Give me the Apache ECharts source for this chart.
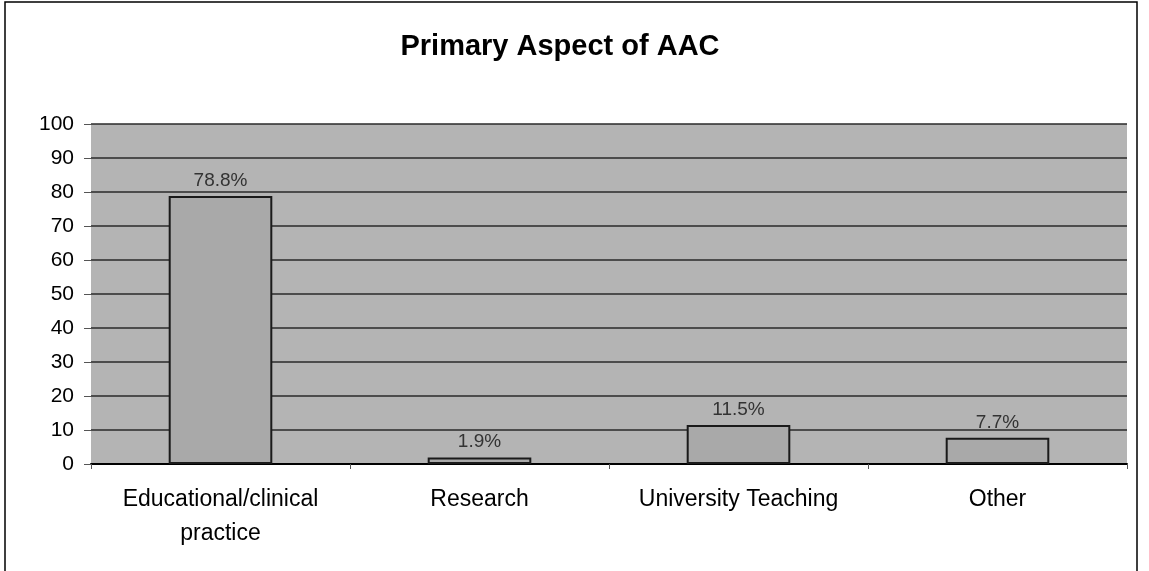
<!DOCTYPE html>
<html>
<head>
<meta charset="utf-8">
<script src="https://cdn.jsdelivr.net/npm/echarts@6/dist/echarts.min.js"></script>
<style>
html,body{margin:0;padding:0;background:#fff;}
#chart{width:1149px;height:571px;}
</style>
</head>
<body>
<div id="chart"></div>
<script>
const categories = ['Educational/clinical\npractice', 'Research', 'University Teaching', 'Other'];
const values = [78.8, 1.9, 11.5, 7.7];
const labels = ['78.8%', '1.9%', '11.5%', '7.7%'];
const yTicks = [0, 10, 20, 30, 40, 50, 60, 70, 80, 90, 100];

const FONT = 'Liberation Sans, Arial, sans-serif';
const chart = echarts.init(document.getElementById('chart'), null, {renderer: 'canvas'});
chart.setOption({
  animation: false,
  backgroundColor: '#ffffff',
  title: {
    text: 'Primary Aspect of AAC',
    left: 555, top: 27, textAlign: 'center',
    textStyle: {fontFamily: FONT, fontWeight: 'bold', fontSize: 29, color: '#000'}
  },
  graphic: [{
    type: 'rect', shape: {x: 5, y: 2, width: 1132, height: 575},
    style: {fill: 'none', stroke: '#000', lineWidth: 1.5}, silent: true, z: 100
  }],
  grid: {left: 91, right: 22, top: 124, bottom: 107, show: true, backgroundColor: '#b4b4b4', borderWidth: 0},
  xAxis: {
    type: 'category',
    data: categories,
    axisLine: {show: true, lineStyle: {color: '#000', width: 2}},
    axisTick: {show: true, length: 5, lineStyle: {color: '#555'}},
    axisLabel: {fontFamily: FONT, fontSize: 23, color: '#000', margin: 19, lineHeight: 34, interval: 0}
  },
  yAxis: {
    type: 'value', min: 0, max: 100, interval: 10,
    axisLine: {show: false},
    axisTick: {show: true, length: 7, lineStyle: {color: '#555'}},
    splitLine: {show: true, lineStyle: {color: '#2a2a2a', width: 1.5}},
    axisLabel: {fontFamily: FONT, fontSize: 21, color: '#000', margin: 17,
      formatter: v => yTicks.includes(v) ? String(v) : ''}
  },
  series: [{
    type: 'bar',
    data: values,
    barWidth: '40%',
    itemStyle: {color: '#a9a9a9', borderColor: '#1a1a1a', borderWidth: 2},
    label: {
      show: true, position: 'top', distance: 6,
      formatter: p => labels[p.dataIndex],
      fontFamily: FONT, fontSize: 19, color: '#333'
    }
  }]
});
</script>
</body>
</html>
